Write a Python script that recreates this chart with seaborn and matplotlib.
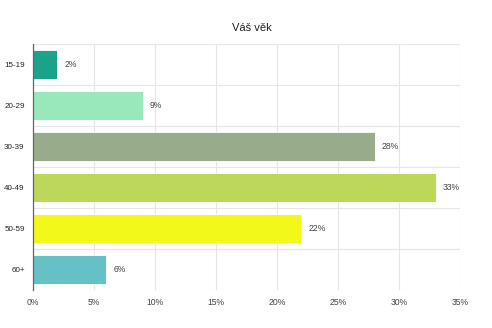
import matplotlib
matplotlib.use("Agg")
import matplotlib.pyplot as plt
import seaborn as sns
import pandas as pd
import numpy as np
from matplotlib.ticker import FuncFormatter, FixedLocator

categories = ["15-19", "20-29", "30-39", "40-49", "50-59", "60+"]
values = [2, 9, 28, 33, 22, 6]
colors = ["#1aa38a", "#98e8bc", "#98ac8c", "#bdd75a", "#f2f91a", "#66c1c6"]
title = "Váš věk"
xticks = [0, 5, 10, 15, 20, 25, 30, 35]

sns.set_theme(style="white")
plt.rcParams['font.family'] = ['Liberation Sans', 'DejaVu Sans']

df = pd.DataFrame({"cat": categories, "val": values})

fig = plt.figure(figsize=(4.92, 3.28), dpi=100)
ax = fig.add_axes([33/492, 38/328, 427/492, 246/328])

sns.barplot(data=df, y="cat", x="val", hue="cat", palette=colors, order=categories,
            hue_order=categories, orient="h", width=0.7, legend=False, ax=ax,
            edgecolor="white", linewidth=0.6, saturation=1)

ax.set_xlim(0, 35)
ax.set_ylim(len(categories) - 0.5, -0.5)
ax.xaxis.set_major_locator(FixedLocator(xticks))
ax.xaxis.set_major_formatter(FuncFormatter(lambda v, p: f"{v:g}%"))
ax.yaxis.set_minor_locator(FixedLocator(np.arange(-0.5, len(categories), 1)))

ax.grid(False)
ax.xaxis.grid(True, which="major", color="#e6e6e6", linewidth=0.8)
ax.yaxis.grid(True, which="minor", color="#e6e6e6", linewidth=0.8)
ax.set_axisbelow(True)

for s in ["top", "right", "bottom"]:
    ax.spines[s].set_visible(False)
ax.spines["left"].set_color("#666666")
ax.spines["left"].set_linewidth(0.9)

ax.tick_params(axis="y", which="major", length=0, pad=6, labelsize=5.8, labelcolor="#222222")
ax.tick_params(axis="y", which="minor", length=6, color="#e0e0e0", width=0.8)
ax.tick_params(axis="x", which="major", length=0, pad=6, labelsize=6.2, labelcolor="#444444")

ax.set_xlabel("")
ax.set_ylabel("")

for cont in ax.containers:
    ax.bar_label(cont, labels=[f"{v:g}%" for v in cont.datavalues], padding=5,
                 fontsize=6.2, color="#444444")

fig.text(252/492, 1 - 28/328, title, ha="center", va="center", fontsize=8, color="#222222")

fig.savefig("out.png", dpi=100)
